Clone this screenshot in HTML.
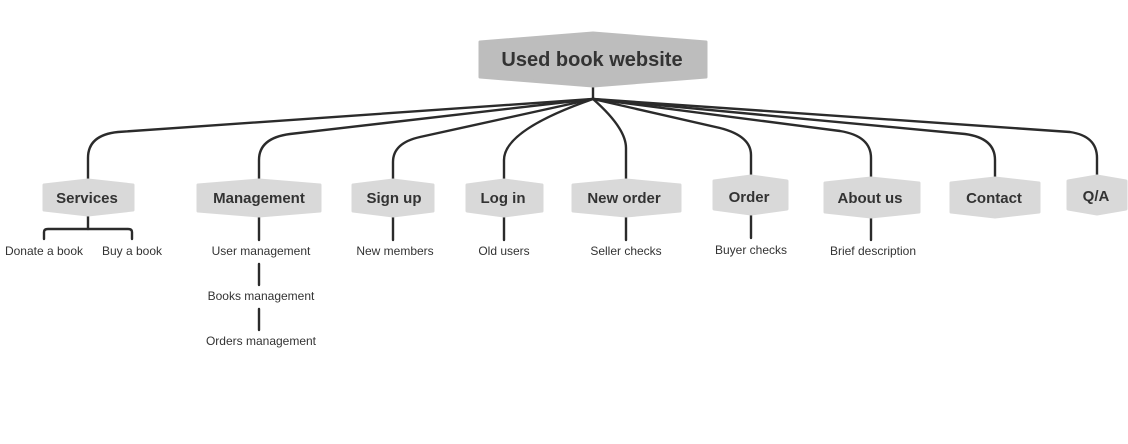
<!DOCTYPE html>
<html><head><meta charset="utf-8"><style>
html,body{margin:0;padding:0;background:#fff;}
svg{display:block;}
.n{font-family:"Liberation Sans",sans-serif;font-weight:bold;fill:#333;text-anchor:middle;}
.s{font-family:"Liberation Sans",sans-serif;font-size:12px;fill:#333;text-anchor:middle;}
</style></head><body>
<svg width="1128" height="444" viewBox="0 0 1128 444" xmlns="http://www.w3.org/2000/svg">
<g fill="none" stroke="#2b2b2b" stroke-width="2.4" stroke-linecap="round">
<line x1="593" y1="86" x2="593" y2="99"/>
<path d="M593 99 L118 132 Q88 135 88 158 L88 180"/>
<path d="M593 99 L290 134 Q259 138 259 160 L259 180"/>
<path d="M593 99 L420 137 Q393 143 393 162 L393 180"/>
<path d="M593 99 Q504 130 504 160 L504 180"/>
<path d="M593 99 Q626 128 626 148 L626 180"/>
<path d="M593 99 L720 128 Q751 136 751 155 L751 176"/>
<path d="M593 99 L840 131 Q871 136 871 158 L871 178"/>
<path d="M593 99 L965 134 Q995 138 995 160 L995 178"/>
<path d="M593 99 L1070 132 Q1097 136 1097 158 L1097 176"/>
<line x1="88" y1="215" x2="88" y2="229"/>
<path d="M44 239 L44 232 Q44 229 48 229 L128 229 Q132 229 132 232 L132 239"/>
<line x1="259" y1="216" x2="259" y2="240"/>
<line x1="259" y1="264" x2="259" y2="285"/>
<line x1="259" y1="309" x2="259" y2="330"/>
<line x1="393" y1="216" x2="393" y2="240"/>
<line x1="504" y1="216" x2="504" y2="240"/>
<line x1="626" y1="216" x2="626" y2="240"/>
<line x1="751" y1="214" x2="751" y2="238"/>
<line x1="871" y1="217" x2="871" y2="240"/>
</g>
<g stroke-linejoin="round" stroke-width="3">
<polygon fill="#bdbdbd" stroke="#bdbdbd" points="480,42 593,33 706,42 706,77 593,86 480,77"/>
<polygon fill="#d9d9d9" stroke="#d9d9d9" points="44,185 88,180 133,185 133,210 88,215 44,210"/>
<polygon fill="#d9d9d9" stroke="#d9d9d9" points="198,185 259,180 320,185 320,211 259,216 198,211"/>
<polygon fill="#d9d9d9" stroke="#d9d9d9" points="353,185 393,180 433,185 433,211 393,216 353,211"/>
<polygon fill="#d9d9d9" stroke="#d9d9d9" points="467,185 504,180 542,185 542,211 504,216 467,211"/>
<polygon fill="#d9d9d9" stroke="#d9d9d9" points="573,185 626,180 680,185 680,211 626,216 573,211"/>
<polygon fill="#d9d9d9" stroke="#d9d9d9" points="714,181 751,176 787,181 787,209 751,214 714,209"/>
<polygon fill="#d9d9d9" stroke="#d9d9d9" points="825,183 871,178 919,183 919,212 871,217 825,212"/>
<polygon fill="#d9d9d9" stroke="#d9d9d9" points="951,183 995,178 1039,183 1039,212 995,217 951,212"/>
<polygon fill="#d9d9d9" stroke="#d9d9d9" points="1068,181 1097,176 1126,181 1126,209 1097,214 1068,209"/>
</g>
<text class="n" x="592" y="66" font-size="20">Used book website</text>
<text class="n" x="87" y="203" font-size="15">Services</text>
<text class="n" x="259" y="203" font-size="15">Management</text>
<text class="n" x="394" y="203" font-size="15">Sign up</text>
<text class="n" x="503" y="203" font-size="15">Log in</text>
<text class="n" x="624" y="203" font-size="15">New order</text>
<text class="n" x="749" y="202" font-size="15">Order</text>
<text class="n" x="870" y="203" font-size="15">About us</text>
<text class="n" x="994" y="203" font-size="15">Contact</text>
<text class="n" x="1096" y="201" font-size="15">Q/A</text>
<text class="s" x="44" y="255">Donate a book</text>
<text class="s" x="132" y="255">Buy a book</text>
<text class="s" x="261" y="255">User management</text>
<text class="s" x="261" y="300">Books management</text>
<text class="s" x="261" y="345">Orders management</text>
<text class="s" x="395" y="255">New members</text>
<text class="s" x="504" y="255">Old users</text>
<text class="s" x="626" y="255">Seller checks</text>
<text class="s" x="751" y="254">Buyer checks</text>
<text class="s" x="873" y="255">Brief  description</text>
</svg>
</body></html>
